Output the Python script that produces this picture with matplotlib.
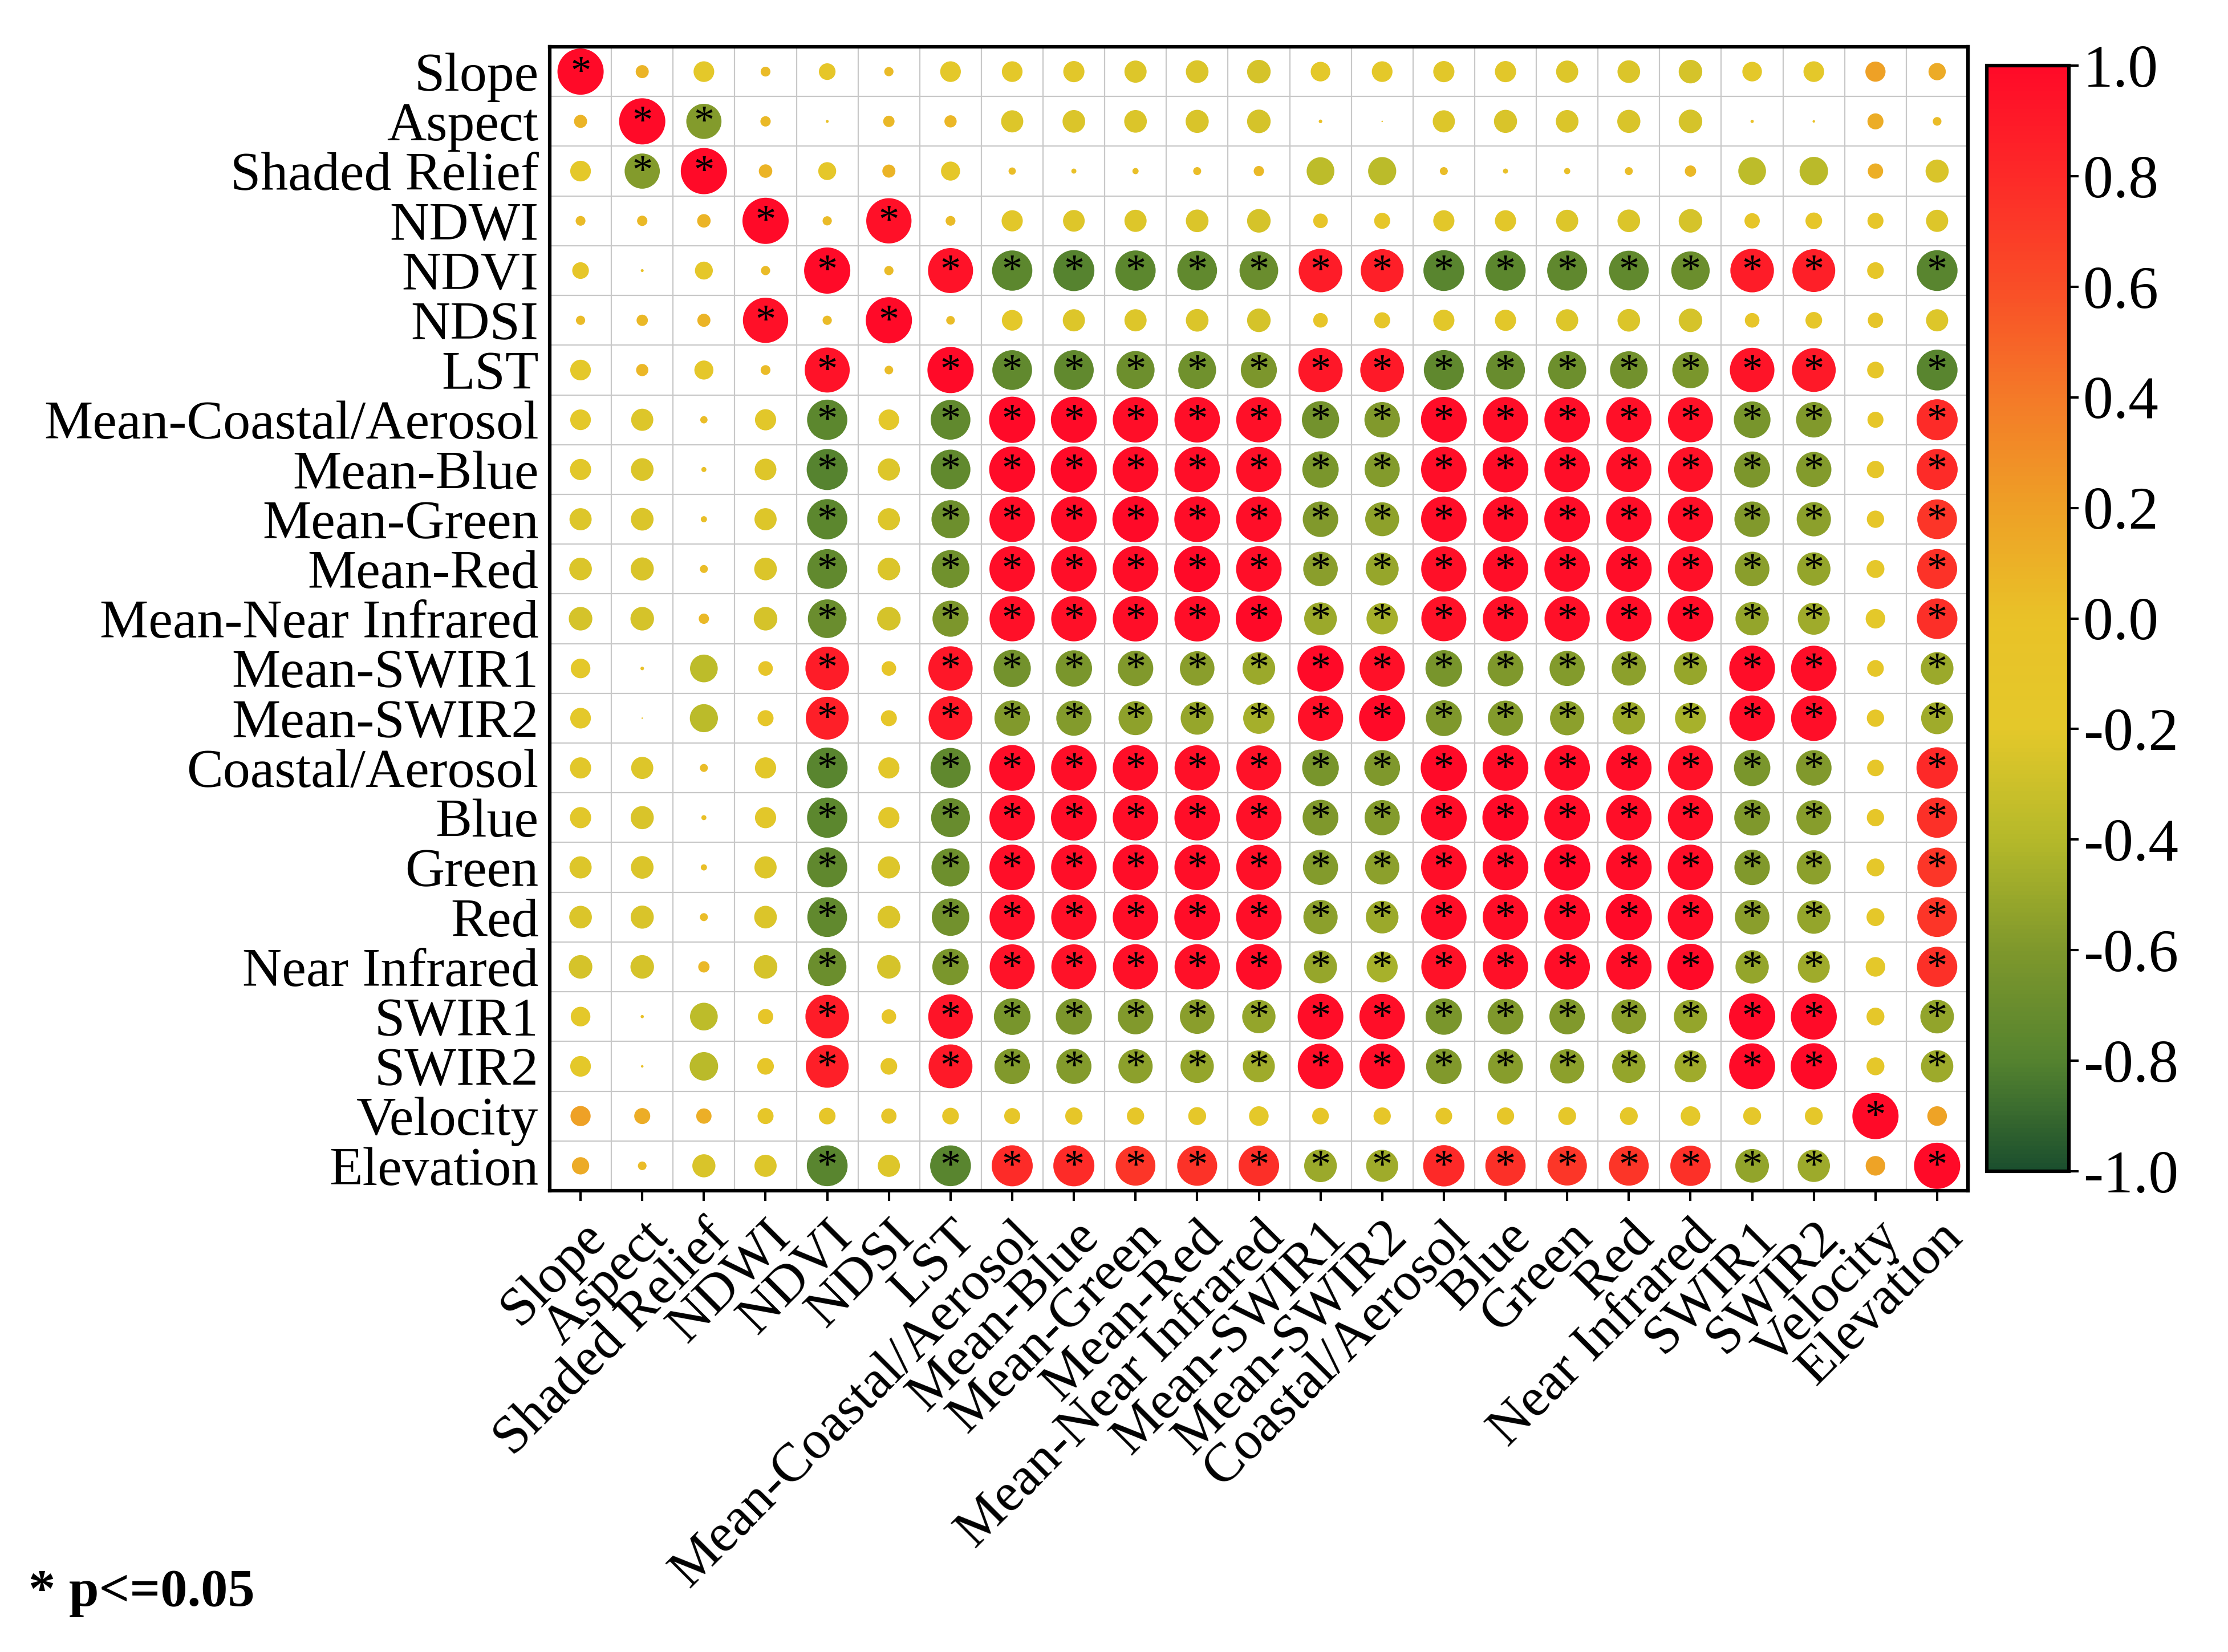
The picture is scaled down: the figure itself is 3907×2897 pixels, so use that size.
import numpy as np
import matplotlib
matplotlib.use("Agg")
import matplotlib.pyplot as plt
import matplotlib.transforms as mtransforms
from matplotlib.colors import LinearSegmentedColormap, Normalize
from matplotlib.cm import ScalarMappable

plt.rcParams['font.family'] = ['Liberation Serif', 'DejaVu Serif']

variables = ["Slope", "Aspect", "Shaded Relief", "NDWI", "NDVI", "NDSI", "LST",
             "Mean-Coastal/Aerosol", "Mean-Blue", "Mean-Green", "Mean-Red",
             "Mean-Near Infrared", "Mean-SWIR1", "Mean-SWIR2", "Coastal/Aerosol",
             "Blue", "Green", "Red", "Near Infrared", "SWIR1", "SWIR2",
             "Velocity", "Elevation"]

# Upper triangle of the correlation matrix: each list holds r of that variable
# with every variable listed after it (matrix is symmetric, diagonal = 1).
r_slope = [0.08, -0.20, 0.045, -0.13, 0.04, -0.20, -0.20, -0.21, -0.23, -0.24, -0.26,
           -0.18, -0.20, -0.21, -0.21, -0.23, -0.24, -0.26, -0.18, -0.20, 0.19, 0.14]
r_aspect = [-0.58, 0.05, 0.004, 0.06, 0.07, -0.23, -0.24, -0.24, -0.25, -0.26, 0.006,
            0.001, -0.23, -0.25, -0.24, -0.25, -0.26, 0.005, 0.003, 0.12, 0.035]
r_shaded = [0.085, -0.15, 0.08, -0.17, 0.025, 0.012, 0.018, 0.03, 0.05, -0.36, -0.37,
            0.03, 0.012, 0.018, 0.03, 0.06, -0.36, -0.38, 0.11, -0.25]
r_ndwi = [0.04, 0.96, 0.045, -0.21, -0.22, -0.23, -0.24, -0.26, -0.10, -0.12, -0.21,
          -0.21, -0.23, -0.24, -0.26, -0.11, -0.13, -0.12, -0.23]
r_ndvi = [0.04, 0.95, -0.76, -0.79, -0.76, -0.74, -0.70, 0.89, 0.86, -0.78, -0.76,
          -0.75, -0.74, -0.69, 0.89, 0.86, -0.13, -0.78]
r_ndsi = [0.035, -0.20, -0.23, -0.23, -0.24, -0.26, -0.10, -0.12, -0.21, -0.21, -0.23,
          -0.24, -0.26, -0.10, -0.13, -0.11, -0.23]
r_lst = [-0.74, -0.74, -0.68, -0.67, -0.61, 0.92, 0.90, -0.75, -0.71, -0.68, -0.66,
         -0.62, 0.93, 0.90, -0.13, -0.78]
r_mean_coastal = [0.99, 0.97, 0.97, 0.96, -0.65, -0.59, 0.98, 0.97, 0.97, 0.96, 0.95,
                  -0.63, -0.59, -0.12, 0.79]
r_mean_blue = [0.98, 0.97, 0.96, -0.62, -0.58, 0.97, 0.98, 0.97, 0.96, 0.95, -0.61,
               -0.58, -0.14, 0.79]
r_mean_green = [0.98, 0.97, -0.59, -0.54, 0.97, 0.97, 0.98, 0.97, 0.96, -0.59, -0.55,
                -0.14, 0.74]
r_mean_red = [0.97, -0.56, -0.51, 0.96, 0.97, 0.97, 0.98, 0.96, -0.56, -0.52, -0.15, 0.75]
r_mean_nir = [-0.50, -0.46, 0.95, 0.96, 0.96, 0.97, 0.98, -0.52, -0.48, -0.18, 0.77]
r_mean_swir1 = [0.96, -0.63, -0.60, -0.58, -0.55, -0.51, 0.98, 0.97, -0.13, -0.50]
r_mean_swir2 = [-0.60, -0.58, -0.55, -0.50, -0.45, 0.97, 0.97, -0.14, -0.48]
r_coastal = [0.98, 0.97, 0.97, 0.95, -0.62, -0.59, -0.13, 0.80]
r_blue = [0.98, 0.97, 0.96, -0.60, -0.57, -0.14, 0.76]
r_green = [0.98, 0.97, -0.59, -0.55, -0.15, 0.73]
r_red = [0.97, -0.56, -0.52, -0.15, 0.74]
r_nir = [-0.52, -0.48, -0.18, 0.76]
r_swir1 = [0.99, -0.15, -0.53]
r_swir2 = [-0.15, -0.49]
r_velocity = [0.18]

upper_rows = [r_slope, r_aspect, r_shaded, r_ndwi, r_ndvi, r_ndsi, r_lst,
              r_mean_coastal, r_mean_blue, r_mean_green, r_mean_red, r_mean_nir,
              r_mean_swir1, r_mean_swir2, r_coastal, r_blue, r_green, r_red,
              r_nir, r_swir1, r_swir2, r_velocity]

colorbar_ticks = [1.0, 0.8, 0.6, 0.4, 0.2, 0.0, -0.2, -0.4, -0.6, -0.8, -1.0]
sig_r = 0.43  # |r| at which p <= 0.05 in the chart

n = len(variables)
corr = np.eye(n)
for i, row in enumerate(upper_rows):
    corr[i, i + 1:] = row
    corr[i + 1:, i] = row

cmap = LinearSegmentedColormap.from_list("rg", [
    (0.00, "#1b4f2e"), (0.10, "#55832f"), (0.20, "#7f982c"), (0.30, "#b5b92a"),
    (0.40, "#e4c82a"), (0.50, "#e9c228"), (0.60, "#eea026"), (0.70, "#f47a28"),
    (0.80, "#f94e27"), (0.90, "#fd2a28"), (1.00, "#ff0a28")])
norm = Normalize(vmin=-1, vmax=1)

W, H, DPI = 3907, 2897, 100
fig = plt.figure(figsize=(W / DPI, H / DPI), dpi=DPI)
fig.patch.set_facecolor("white")

ax_l, ax_r, ax_t, ax_b = 964, 3451, 82, 2088
ax = fig.add_axes([ax_l / W, 1 - ax_b / H, (ax_r - ax_l) / W, (ax_b - ax_t) / H])
ax.set_xlim(-0.5, n - 0.5)
ax.set_ylim(n - 0.5, -0.5)

# grid at cell boundaries
ax.set_xticks(np.arange(-0.5, n, 1), minor=True)
ax.set_yticks(np.arange(-0.5, n, 1), minor=True)
ax.grid(which="minor", color="#c8c8c8", linewidth=1.6)
ax.tick_params(which="minor", length=0)
ax.set_axisbelow(True)

xx, yy = np.meshgrid(np.arange(n), np.arange(n))
dmax_pt = 81 * 72 / DPI
ax.scatter(xx.ravel(), yy.ravel(), s=(dmax_pt ** 2) * np.abs(corr.ravel()),
           c=corr.ravel(), cmap=cmap, norm=norm, linewidths=0, zorder=3)

for i in range(n):
    for j in range(n):
        if abs(corr[i, j]) >= sig_r:
            ax.text(j, i + 0.04, "*", ha="center", va="center", fontsize=52,
                    color="black", zorder=4)

ax.set_xticks(range(n))
ax.set_xticklabels(variables, rotation=45, ha="right", va="top",
                   rotation_mode="anchor", fontsize=69)
shift = mtransforms.ScaledTranslation(14 / DPI, 0, fig.dpi_scale_trans)
for lab in ax.get_xticklabels():
    lab.set_transform(lab.get_transform() + shift)
ax.set_yticks(range(n))
ax.set_yticklabels(variables, fontsize=69)
ax.tick_params(axis="x", which="major", length=13, width=3, direction="out", pad=14)
ax.tick_params(axis="y", which="major", length=0, pad=14)
for sp in ax.spines.values():
    sp.set_linewidth(4.5)
    sp.set_color("black")

# colorbar
cb_l, cb_r, cb_t, cb_b = 3484, 3628, 115, 2054
cax = fig.add_axes([cb_l / W, 1 - cb_b / H, (cb_r - cb_l) / W, (cb_b - cb_t) / H])
cb = fig.colorbar(ScalarMappable(norm=norm, cmap=cmap), cax=cax)
cb.set_ticks(colorbar_ticks)
cb.set_ticklabels([f"{t:.1f}" for t in colorbar_ticks])
cb.outline.set_linewidth(4.5)
cax.tick_params(length=12, width=3, labelsize=76, pad=6)

fig.text(50 / W, 1 - 2816 / H, "* p<=0.05", fontsize=68, fontweight="bold",
         ha="left", va="baseline")

fig.savefig("out.png", dpi=DPI, facecolor="white")
